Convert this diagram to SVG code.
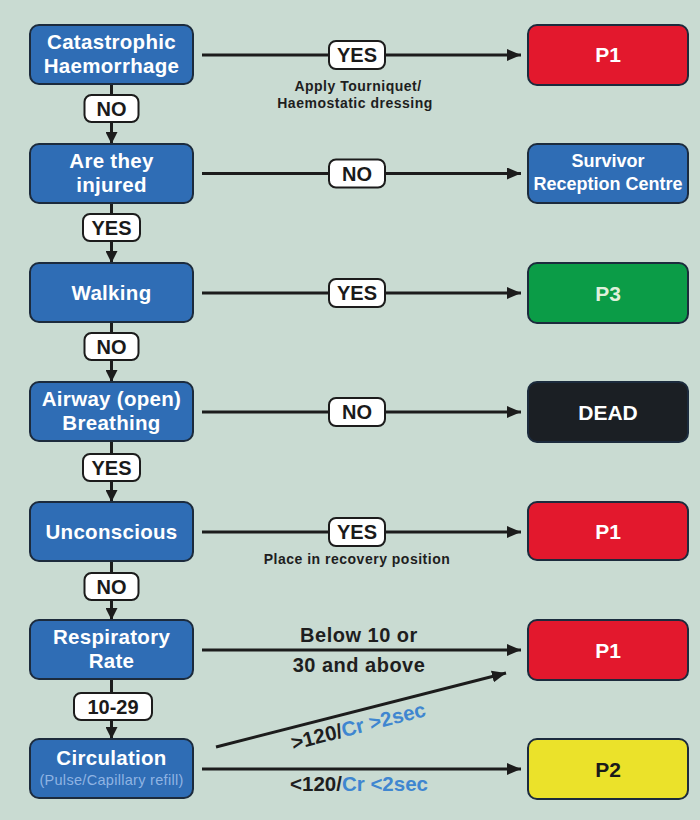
<svg xmlns="http://www.w3.org/2000/svg" width="700" height="820" viewBox="0 0 700 820">
<defs>
<style>
.bg{fill:#c9dbd2}
.node rect{fill:#2f6db5;stroke:#1c2b3d;stroke-width:2}
.nt{fill:#ffffff;font-family:"Liberation Sans",Arial,sans-serif;font-weight:bold;font-size:20.5px;letter-spacing:0.3px;text-anchor:middle}
.rt{fill:#ffffff;font-family:"Liberation Sans",Arial,sans-serif;font-weight:bold;font-size:21px;text-anchor:middle}
.sub{fill:#8fb4e3;font-family:"Liberation Sans",Arial,sans-serif;font-size:14.5px;letter-spacing:0.3px;text-anchor:middle}
.out rect{stroke:#1c2b3d;stroke-width:2}
.lbl{fill:#ffffff;stroke:#1c1c1c;stroke-width:2}
.lt{fill:#1a1a1a;font-family:"Liberation Sans",Arial,sans-serif;font-weight:bold;font-size:20px;text-anchor:middle}
.note{fill:#1e1e1e;font-family:"Liberation Sans",Arial,sans-serif;font-weight:bold;font-size:14px;letter-spacing:0.5px;text-anchor:middle}
.big{fill:#1e1e1e;font-family:"Liberation Sans",Arial,sans-serif;font-weight:bold;font-size:20px;letter-spacing:0.5px;text-anchor:middle}
.blue{fill:#3f86d0}
.edge{stroke:#1c1c1c;stroke-width:3;fill:none}
</style>
<marker id="ah" viewBox="0 0 14 12" refX="14" refY="6" markerWidth="14" markerHeight="12" markerUnits="userSpaceOnUse" orient="auto">
<path d="M0,0 L14,6 L0,12 z" fill="#1c1c1c"/>
</marker>
<marker id="av" viewBox="0 0 12 12" refX="12" refY="6" markerWidth="12" markerHeight="12" markerUnits="userSpaceOnUse" orient="auto">
<path d="M0,0 L12,6 L0,12 z" fill="#1c1c1c"/>
</marker>
</defs>
<rect class="bg" x="0" y="0" width="700" height="820"/>

<g id="connectors">
<line class="edge" x1="111.5" y1="84" x2="111.5" y2="144" marker-end="url(#av)"/>
<line class="edge" x1="111.5" y1="203" x2="111.5" y2="263" marker-end="url(#av)"/>
<line class="edge" x1="111.5" y1="322" x2="111.5" y2="382" marker-end="url(#av)"/>
<line class="edge" x1="111.5" y1="441" x2="111.5" y2="502" marker-end="url(#av)"/>
<line class="edge" x1="111.5" y1="561" x2="111.5" y2="620" marker-end="url(#av)"/>
<line class="edge" x1="111.5" y1="679" x2="111.5" y2="739" marker-end="url(#av)"/>
<line class="edge" x1="202" y1="55" x2="521" y2="55" marker-end="url(#ah)"/>
<line class="edge" x1="202" y1="173.5" x2="521" y2="173.5" marker-end="url(#ah)"/>
<line class="edge" x1="202" y1="293" x2="521" y2="293" marker-end="url(#ah)"/>
<line class="edge" x1="202" y1="412" x2="521" y2="412" marker-end="url(#ah)"/>
<line class="edge" x1="202" y1="532" x2="521" y2="532" marker-end="url(#ah)"/>
<line class="edge" x1="202" y1="650" x2="521" y2="650" marker-end="url(#ah)"/>
<line class="edge" x1="216" y1="747" x2="506" y2="673" marker-end="url(#ah)"/>
<line class="edge" x1="202" y1="769" x2="521" y2="769" marker-end="url(#ah)"/>

<g id="lbl-v1"><rect class="lbl" x="84.5" y="95" width="54" height="27" rx="7"/><text class="lt" x="111.5" y="115.5">NO</text></g>
<g id="lbl-v2"><rect class="lbl" x="83" y="214" width="57" height="27" rx="7"/><text class="lt" x="111.5" y="234.5">YES</text></g>
<g id="lbl-v3"><rect class="lbl" x="84.5" y="333" width="54" height="27" rx="7"/><text class="lt" x="111.5" y="353.5">NO</text></g>
<g id="lbl-v4"><rect class="lbl" x="83" y="454" width="57" height="27" rx="7"/><text class="lt" x="111.5" y="474.5">YES</text></g>
<g id="lbl-v5"><rect class="lbl" x="84.5" y="573" width="54" height="27" rx="7"/><text class="lt" x="111.5" y="593.5">NO</text></g>
<g id="lbl-v6"><rect class="lbl" x="74" y="693" width="78" height="27" rx="7"/><text class="lt" x="113" y="713.5">10-29</text></g>

<g id="lbl-h1"><rect class="lbl" x="329" y="41" width="56" height="28" rx="7"/><text class="lt" x="357" y="62">YES</text></g>
<g id="lbl-h2"><rect class="lbl" x="329" y="159.5" width="56" height="28" rx="7"/><text class="lt" x="357" y="180.5">NO</text></g>
<g id="lbl-h3"><rect class="lbl" x="329" y="279" width="56" height="28" rx="7"/><text class="lt" x="357" y="300">YES</text></g>
<g id="lbl-h4"><rect class="lbl" x="329" y="398" width="56" height="28" rx="7"/><text class="lt" x="357" y="419">NO</text></g>
<g id="lbl-h5"><rect class="lbl" x="329" y="518" width="56" height="28" rx="7"/><text class="lt" x="357" y="539">YES</text></g>

<text class="note" x="358" y="90.5">Apply Tourniquet/</text>
<text class="note" x="355" y="107.5">Haemostatic dressing</text>
<text class="note" x="357" y="564">Place in recovery position</text>
<text class="big" x="359" y="642">Below 10 or</text>
<text class="big" x="359" y="672">30 and above</text>
<text class="big" x="360" y="733" transform="rotate(-14.4 360 733)" style="font-size:20.5px;letter-spacing:0">&gt;120/<tspan class="blue">Cr &gt;2sec</tspan></text>
<text class="big" x="359" y="791" style="font-size:20.5px;letter-spacing:0">&lt;120/<tspan class="blue">Cr &lt;2sec</tspan></text>
</g>

<g id="n-catastrophic" class="node"><rect x="30" y="25" width="163" height="59" rx="9"/><text class="nt" x="111.5" y="49">Catastrophic</text><text class="nt" x="111.5" y="73">Haemorrhage</text></g>
<g id="n-injured" class="node"><rect x="30" y="144" width="163" height="59" rx="9"/><text class="nt" x="111.5" y="168">Are they</text><text class="nt" x="111.5" y="192">injured</text></g>
<g id="n-walking" class="node"><rect x="30" y="263" width="163" height="59" rx="9"/><text class="nt" x="111.5" y="299.5">Walking</text></g>
<g id="n-airway" class="node"><rect x="30" y="382" width="163" height="59" rx="9"/><text class="nt" x="111.5" y="406">Airway (open)</text><text class="nt" x="111.5" y="430">Breathing</text></g>
<g id="n-unconscious" class="node"><rect x="30" y="502" width="163" height="59" rx="9"/><text class="nt" x="111.5" y="538.5">Unconscious</text></g>
<g id="n-resp" class="node"><rect x="30" y="620" width="163" height="59" rx="9"/><text class="nt" x="111.5" y="644">Respiratory</text><text class="nt" x="111.5" y="668">Rate</text></g>
<g id="n-circ" class="node"><rect x="30" y="739" width="163" height="59" rx="9"/><text class="nt" x="111.5" y="765">Circulation</text><text class="sub" x="111.5" y="785">(Pulse/Capillary refill)</text></g>

<g id="o-p1a" class="out"><rect x="528" y="25" width="160" height="60" rx="9" fill="#e3182d"/><text class="rt" x="608" y="62">P1</text></g>
<g id="o-src" class="out"><rect x="528" y="144" width="160" height="59" rx="9" fill="#2f6db5"/><text class="nt" x="608" y="167" style="font-size:18px;letter-spacing:0">Survivor</text><text class="nt" x="608" y="190" style="font-size:18px;letter-spacing:0">Reception Centre</text></g>
<g id="o-p3" class="out"><rect x="528" y="263" width="160" height="60" rx="9" fill="#0b9c47"/><text class="rt" x="608" y="300.5" style="fill:#dff0dc">P3</text></g>
<g id="o-dead" class="out"><rect x="528" y="382" width="160" height="60" rx="9" fill="#1b1f24"/><text class="rt" x="608" y="419.5">DEAD</text></g>
<g id="o-p1b" class="out"><rect x="528" y="502" width="160" height="58" rx="9" fill="#e3182d"/><text class="rt" x="608" y="539">P1</text></g>
<g id="o-p1c" class="out"><rect x="528" y="620" width="160" height="60" rx="9" fill="#e3182d"/><text class="rt" x="608" y="657.5">P1</text></g>
<g id="o-p2" class="out"><rect x="528" y="739" width="160" height="60" rx="9" fill="#ebe22a"/><text class="rt" x="608" y="776.5" style="fill:#1a1a1a">P2</text></g>
</svg>
